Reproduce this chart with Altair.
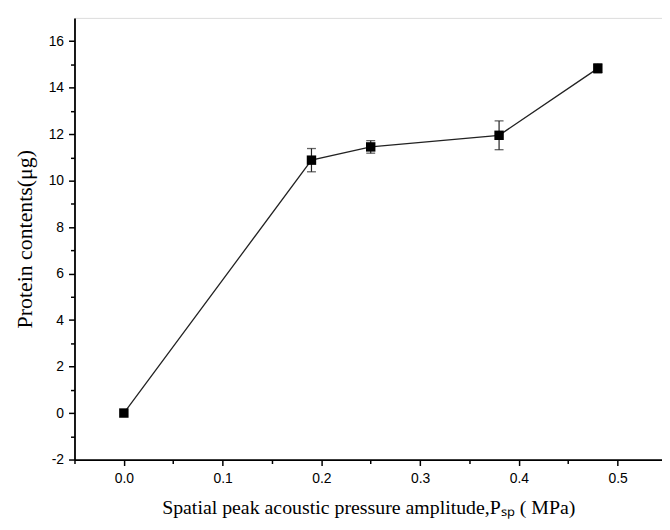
import altair as alt
import pandas as pd

pressure = [0.0, 0.19, 0.25, 0.38, 0.48]
protein = [0.0, 10.88, 11.45, 11.95, 14.83]
err = [0.0, 0.5, 0.27, 0.62, 0.2]

x_major = [0.0, 0.1, 0.2, 0.3, 0.4, 0.5]
x_minor = [-0.05, 0.05, 0.15, 0.25, 0.35, 0.45]
y_major = [-2, 0, 2, 4, 6, 8, 10, 12, 14, 16]
y_minor = [-1, 1, 3, 5, 7, 9, 11, 13, 15]

df = pd.DataFrame({"x": pressure, "y": protein, "e": err})
df["lo"] = df["y"] - df["e"]
df["hi"] = df["y"] + df["e"]
eb = df[df["e"] > 0]

xs = alt.Scale(domain=[-0.05, 0.545], nice=False, zero=False)
ys = alt.Scale(domain=[-2, 17], nice=False, zero=False)

label_font = "Liberation Sans"
title_font = "Liberation Serif"

x_axis = alt.Axis(values=x_major, format=".1f", grid=False, orient="bottom",
                  tickSize=6, tickWidth=1.5, domainWidth=1.8, domainColor="black",
                  tickColor="black", labelFont=label_font, labelFontSize=14,
                  labelColor="black", labelPadding=6,
                  title="Spatial peak acoustic pressure amplitude,Pₛₚ ( MPa)",
                  titleFont=title_font, titleFontSize=20, titleFontWeight="normal",
                  titleColor="black", titlePadding=12)
y_axis = alt.Axis(values=y_major, grid=False, orient="left",
                  labelExpr="toString(datum.value)",
                  tickSize=6, tickWidth=1.5, domainWidth=1.8, domainColor="black",
                  tickColor="black", labelFont=label_font, labelFontSize=14,
                  labelColor="black", labelPadding=5,
                  title="Protein contents(μg)",
                  titleFont=title_font, titleFontSize=22, titleFontWeight="normal",
                  titleColor="black", titlePadding=12)

x_minor_axis = alt.Axis(values=x_minor, grid=False, orient="bottom", labels=False,
                        domain=False, tickSize=4, tickWidth=1.5, tickColor="black",
                        title=None)
y_minor_axis = alt.Axis(values=y_minor, grid=False, orient="left", labels=False,
                        domain=False, tickSize=4, tickWidth=1.5, tickColor="black",
                        title=None)

base = alt.Chart(df)

line = base.mark_line(color="#222222", strokeWidth=1.3).encode(
    x=alt.X("x:Q", scale=xs, axis=x_axis),
    y=alt.Y("y:Q", scale=ys, axis=y_axis),
)

minor = alt.Chart(df).mark_point(opacity=0).encode(
    x=alt.X("x:Q", scale=xs, axis=x_minor_axis),
    y=alt.Y("y:Q", scale=ys, axis=y_minor_axis),
)

rules = alt.Chart(eb).mark_rule(color="#222222", strokeWidth=1.2).encode(
    x=alt.X("x:Q", axis=None), y=alt.Y("lo:Q", axis=None), y2="hi:Q"
)
cap_lo = alt.Chart(eb).mark_tick(color="#222222", size=9, thickness=1.3,
                                 orient="horizontal").encode(
    x=alt.X("x:Q", axis=None), y=alt.Y("lo:Q", axis=None))
cap_hi = alt.Chart(eb).mark_tick(color="#222222", size=9, thickness=1.3,
                                 orient="horizontal").encode(
    x=alt.X("x:Q", axis=None), y=alt.Y("hi:Q", axis=None))

pts = base.mark_square(color="black", size=90, opacity=1).encode(
    x=alt.X("x:Q", axis=None), y=alt.Y("y:Q", axis=None)
)

chart = alt.layer(line, minor, rules, cap_lo, cap_hi, pts).resolve_axis(
    x="independent", y="independent"
).properties(
    width=592, height=445,
    autosize=alt.AutoSizeParams(type="none"),
    padding={"left": 67, "top": 8, "right": 0, "bottom": 66},
).configure_view(stroke=None).configure(background="white")

chart.save("out.html", embed_options={"renderer": "svg", "actions": False})
